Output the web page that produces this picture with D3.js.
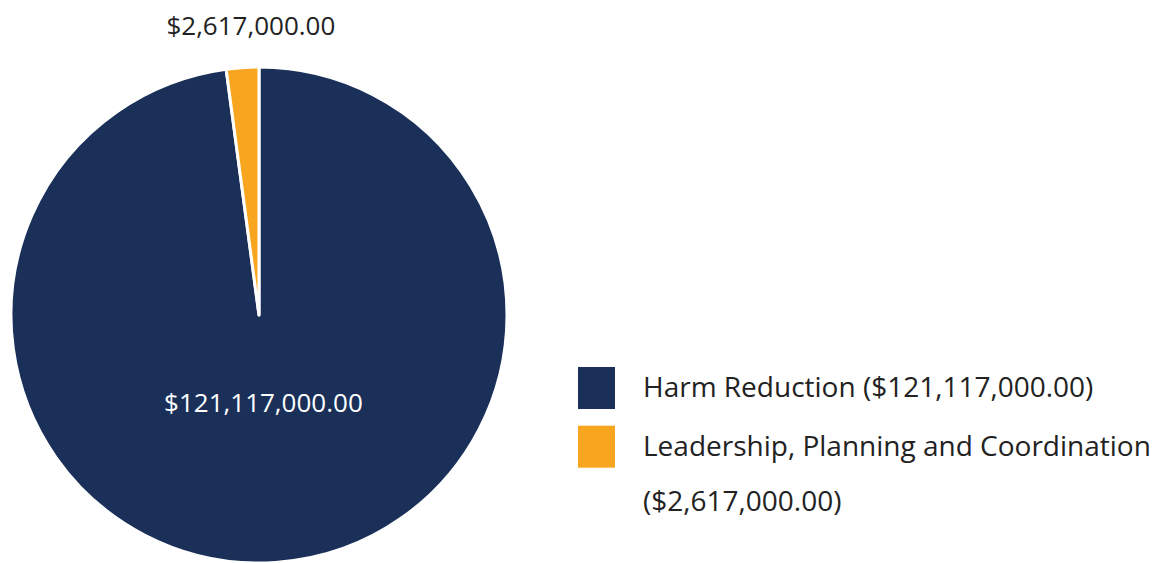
<!DOCTYPE html>
<html lang="en">
  <head>
  <title>Funding pie</title>
    <style>
      body { margin: 0; background: #fff; }
      text { font-family: 'Open Sans', 'Noto Sans', sans-serif; }
    </style>
  </head>
  <body>
<div id="chart"></div>
    <script src="https://d3js.org/d3.v7.min.js"></script>
    <script>
    // data
    var categories = ["Harm Reduction", "Leadership, Planning and Coordination"];
    var values = [121117000, 2617000];
    var colors = ["#1a3059", "#f8a61f"];

    var width = 1165, height = 563;
    var cx = 259, cy = 315, radius = 248;

    var fmt = function(v) { return "$" + d3.format(",.2f")(v); };

    var svg = d3.select("#chart")
        .append("svg")
        .attr("width", width)
        .attr("height", height);

    var pie = d3.pie().sort(null).value(function(d){ return d.value; });
    var arc = d3.arc().innerRadius(0).outerRadius(radius);

    var data = categories.map(function(c, i){ return {name: c, value: values[i], color: colors[i]}; });

    var g = svg.append("g").attr("transform", "translate(" + cx + "," + cy + ")");

    var arcs = pie(data);

    g.selectAll("path")
      .data(arcs)
      .enter().append("path")
        .attr("d", arc)
        .attr("fill", function(d){ return d.data.color; })
        .attr("stroke", "#fff")
        .attr("stroke-width", 3)
        .attr("stroke-linejoin", "round");

    // big slice label, inside
    var big = arcs[0];
    var midA = (big.startAngle + big.endAngle) / 2;
    g.append("text")
      .attr("x", Math.sin(midA) * radius * 0.39 - 2)
      .attr("y", -Math.cos(midA) * radius * 0.39)
      .attr("text-anchor", "middle")
      .attr("fill", "#fff")
      .style("font-size", "26px")
      .text(fmt(big.data.value));

    // small slice label, outside above
    var small = arcs[1];
    var midB = (small.startAngle + small.endAngle) / 2;
    g.append("text")
      .attr("x", Math.sin(midB) * (radius + 40) + 11)
      .attr("y", -Math.cos(midB) * (radius + 40) + 7)
      .attr("text-anchor", "middle")
      .attr("fill", "#222")
      .style("font-size", "26px")
      .text(fmt(small.data.value));

    // legend
    var legend = svg.append("g").attr("transform", "translate(578,367)");
    var rowY = d3.scaleBand().domain(categories).range([0, 98]).paddingInner(0.33);

    var rows = legend.selectAll("g.row")
      .data(data)
      .enter().append("g")
        .attr("class", "row")
        .attr("transform", function(d){ return "translate(0," + rowY(d.name) + ")"; });

    rows.append("rect")
      .attr("width", 37)
      .attr("height", 42)
      .attr("fill", function(d){ return d.color; });

    var lines = [
      ["Harm Reduction (" + fmt(values[0]) + ")"],
      ["Leadership, Planning and Coordination", "(" + fmt(values[1]) + ")"]
    ];

    rows.each(function(d, i){
      var t = d3.select(this).append("text")
        .attr("x", 65)
        .attr("y", 30)
        .attr("fill", "#222")
        .style("font-size", "28px");
      lines[i].forEach(function(s, j){
        t.append("tspan").attr("x", 65).attr("dy", j ? 55 : 0).text(s);
      });
    });
    </script>
  </body>
</html>
